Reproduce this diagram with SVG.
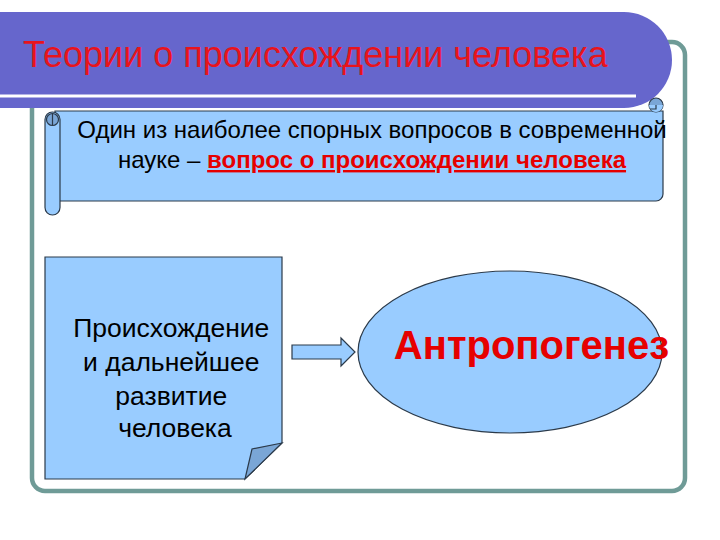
<svg xmlns="http://www.w3.org/2000/svg" width="720" height="540" viewBox="0 0 720 540">
<style>
.shape{fill:#99ccff;stroke:#2b3a4a;stroke-width:1.2}
.dark{fill:#7aa6d6;stroke:#2b3a4a;stroke-width:1.2}
.t{font-family:"Liberation Sans",Arial,sans-serif}
</style>
<rect width="720" height="540" fill="#ffffff"/>
<!-- outer frame -->
<rect x="32" y="42" width="653" height="449" rx="13" fill="none" stroke="#6f9b97" stroke-width="4.5"/>
<!-- title banner -->
<g id="title">
<path d="M-5,12 H624 A48,48 0 0 1 672,60 A48,48 0 0 1 624,108 H-5 Z" fill="#6666cc"/>
<line x1="0" y1="96" x2="636" y2="96" stroke="#ffffff" stroke-width="3"/>
<text class="t" x="23" y="67" font-size="36" fill="#e8141c">Теории о происхождении человека</text>
</g>
<!-- scroll -->
<g id="scroll">
<path class="shape" d="M55,111 H663 V194 A7,7 0 0 1 656,201 H55 Z"/>
<circle class="dark" cx="656" cy="105" r="7"/>
<path d="M649,105 A7,7 0 0 0 663,105" fill="#99ccff" stroke="none"/>
<path d="M650,109 L656,109 L656,105" fill="none" stroke="#2b3a4a" stroke-width="1.2"/>
<rect class="shape" x="45" y="112" width="15" height="103" rx="7.5"/>
<circle class="dark" cx="52.5" cy="119.5" r="6"/>
<path d="M52.5,113.5 V125" stroke="#2b3a4a" stroke-width="1.2"/>
<text class="t" x="372" y="138" font-size="24" fill="#000" text-anchor="middle">Один из наиболее спорных вопросов в современной</text>
<text class="t" x="372" y="168" font-size="24" fill="#000" text-anchor="middle">науке – <tspan fill="#e60000" font-weight="bold" text-decoration="underline">вопрос о происхождении человека</tspan></text>
</g>
<!-- note -->
<g id="note">
<path class="shape" d="M45,257 H282 V443 L245,479 H45 Z"/>
<path class="dark" d="M282,443 L252,449 L245,479 Z"/>
<text class="t" font-size="26.5" fill="#000" text-anchor="middle">
<tspan x="175" y="337">Происхождение</tspan>
<tspan x="175" y="371">и дальнейшее</tspan>
<tspan x="175" y="404.5">развитие</tspan>
<tspan x="175" y="437">человека</tspan>
</text>
</g>
<!-- ellipse -->
<g id="anthro">
<ellipse class="shape" cx="510" cy="352" rx="152" ry="81"/>
<text class="t" x="531.5" y="359" font-size="40" font-weight="bold" fill="#e60000" text-anchor="middle">Антропогенез</text>
</g>
<!-- connectors -->
<g id="connectors">
<path class="shape" d="M292,345 H341 V338 L355,352 L341,366 V359 H292 Z"/>
</g>
</svg>
